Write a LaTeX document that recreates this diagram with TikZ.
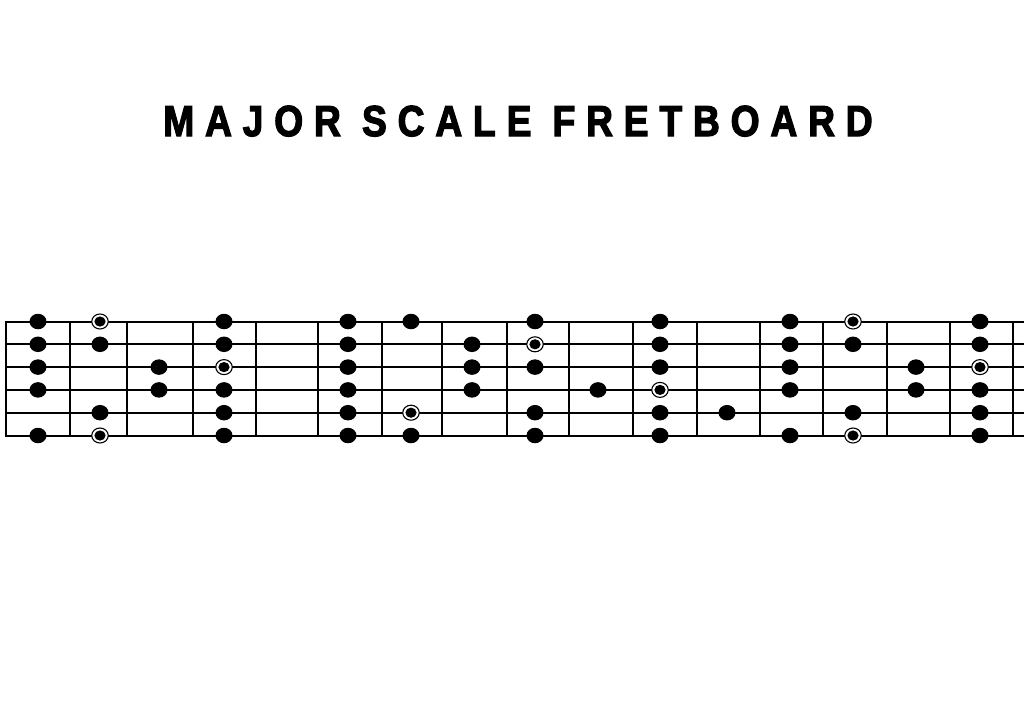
\documentclass[tikz,border=0pt]{standalone}
\usepackage{fontspec}
\usetikzlibrary{shapes.geometric}
\newfontfamily\titlefont{Liberation Sans Bold}[LetterSpace=29, FakeBold=3]
\tikzset{
  stringline/.style={line width=2pt, line cap=rect},
  fretline/.style={line width=2pt, line cap=rect},
  dot/.style={ellipse, fill=black, minimum width=17pt, minimum height=15.5pt, inner sep=0pt},
  rootdot/.style={ellipse, draw=black, line width=1.1pt, fill=white, minimum width=16.5pt, minimum height=15pt, inner sep=0pt,
    path picture={\fill[black] (path picture bounding box.center) ellipse (5.6pt and 5.1pt);}}
}
\begin{document}
\begin{tikzpicture}[x=1pt,y=-1pt]
\useasboundingbox (0,0) rectangle (1024,723);
\fill[white] (0,0) rectangle (1024,723);
\node[anchor=base, inner sep=0pt] (title) at (518,136)
  {\scalebox{0.86}[1]{\fontsize{43.3}{43.3}\selectfont\titlefont MAJOR SCALE FRETBOARD}};
% strings
\foreach \s in {1,...,6}{
  \pgfmathsetmacro{\yy}{321.5+(\s-1)*22.8}
  \draw[stringline] (6,\yy) -- (1024,\yy);
}
% frets
\foreach \x in {6,70,127,193,256,318,382,442,507,569,633,697,760,823,887,950,1013}
  \draw[fretline] (\x,321.5) -- (\x,435.5);
% filled dots
\foreach \x/\ss in {38/{1,2,3,4,6},100/{2,5},159/{3,4},224/{1,2,4,5,6},348/{1,2,3,4,5,6},
  411/{1,6},472/{2,3,4},535/{1,3,5,6},598/{4},660/{1,2,3,5,6},727/{5},790/{1,2,3,4,6},
  853/{2,5},916/{3,4},980/{1,2,4,5,6}}{
  \foreach \s in \ss {
    \pgfmathsetmacro{\yy}{321.5+(\s-1)*22.8}
    \node[dot] (d-\x-\s) at (\x,\yy) {};
  }
}
% root dots
\foreach \x/\s in {100/1,100/6,224/3,411/5,535/2,660/4,853/1,853/6,980/3}{
  \pgfmathsetmacro{\yy}{321.5+(\s-1)*22.8}
  \node[rootdot] (r-\x-\s) at (\x,\yy) {};
}
\end{tikzpicture}
\end{document}
